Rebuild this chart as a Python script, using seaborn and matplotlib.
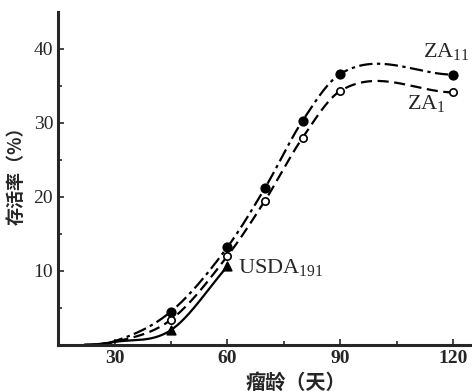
import numpy as np
import matplotlib
matplotlib.use("Agg")
import matplotlib.pyplot as plt
import seaborn as sns

# 数据
days_za = [22, 30, 45, 60, 70, 80, 90, 120]
za11 = [0.0, 0.5, 4.5, 13.2, 21.2, 30.3, 36.6, 36.5]
za1 = [0.0, 0.4, 3.4, 12.0, 19.5, 28.0, 34.3, 34.1]
days_usda = [22, 30, 45, 60]
usda191 = [0.0, 0.4, 2.0, 10.6]
marker_from = 2  # 从第 45 天开始画标记

x_ticks = [30, 60, 90, 120]
y_ticks = [10, 20, 30, 40]


def smooth(x, y, n=300):
    # 三次 Hermite 曲线 (切线取两侧斜率的平均), 只用来把折线画平滑
    x = np.asarray(x, float)
    y = np.asarray(y, float)
    d = np.diff(y) / np.diff(x)
    m = np.zeros(len(x))
    m[1:-1] = (d[:-1] + d[1:]) / 2
    m[0] = 0.0
    m[-1] = d[-1]
    xs = np.linspace(x[0], x[-1], n)
    idx = np.clip(np.searchsorted(x, xs) - 1, 0, len(x) - 2)
    h = x[idx + 1] - x[idx]
    t = (xs - x[idx]) / h
    ys = ((2 * t**3 - 3 * t**2 + 1) * y[idx] + (t**3 - 2 * t**2 + t) * h * m[idx]
          + (-2 * t**3 + 3 * t**2) * y[idx + 1] + (t**3 - t**2) * h * m[idx + 1])
    return xs, np.clip(ys, 0, None)


sns.set_style("ticks")
plt.rcParams['font.family'] = ['Liberation Serif', 'Noto Sans CJK SC', 'DejaVu Sans']
plt.rcParams['mathtext.fontset'] = 'custom'
plt.rcParams['mathtext.rm'] = 'Liberation Serif'

fig = plt.figure(figsize=(4.72, 3.91), dpi=100)
ax = fig.add_axes([0.123, 0.118, 0.877, 0.852])

series = [
    (days_za, za11, (0, (6, 2, 1.5, 2)), 'o', 'black'),
    (days_za, za1, (0, (5, 2.5)), 'o', 'white'),
    (days_usda, usda191, '-', '^', 'black'),
]
for xd, yd, ls, mk, fc in series:
    xs, ys = smooth(xd, yd)
    sns.lineplot(x=xs, y=ys, ax=ax, color='black', linewidth=1.6,
                 linestyle=ls, estimator=None, sort=False)
    sns.scatterplot(x=xd[marker_from:], y=yd[marker_from:], ax=ax, marker=mk,
                    s=38 if fc == 'black' else 28, facecolor=fc,
                    edgecolor='black', linewidth=1.2, zorder=5)

ax.set_xlim(15, 125)
ax.set_ylim(0, 45)
ax.set_xticks(x_ticks)
ax.set_xticks([15, 45, 75, 105], minor=True)
ax.set_yticks(y_ticks)
ax.set_yticks([5, 15, 25, 35], minor=True)
ax.tick_params(axis='both', which='both', direction='in', width=1.2)
ax.tick_params(axis='both', which='major', length=4, labelsize=14)
ax.tick_params(axis='both', which='minor', length=3)
for lab in ax.get_xticklabels():
    lab.set_fontweight('bold')
sns.despine(ax=ax)
for sp in ['left', 'bottom']:
    ax.spines[sp].set_linewidth(2.2)

ax.text(112.0, 39.6, r'ZA$_{\mathrm{11}}$', fontsize=16, ha='left', va='center')
ax.text(107.8, 32.5, r'ZA$_{\mathrm{1}}$', fontsize=16, ha='left', va='center')
ax.text(62.8, 10.3, r'USDA$_{\mathrm{191}}$', fontsize=16, ha='left', va='center')

ax.set_ylabel('存活率（%）', fontsize=13, fontweight='bold',
              family=['Noto Sans CJK SC', 'DejaVu Sans'])
ax.yaxis.set_label_coords(-0.078, 0.52)
ax.set_xlabel('瘤龄（天）', fontsize=14.5, fontweight='bold',
              family=['Noto Sans CJK SC', 'DejaVu Sans'])
ax.xaxis.set_label_coords(0.575, -0.08)

fig.savefig('out.png', dpi=100)
